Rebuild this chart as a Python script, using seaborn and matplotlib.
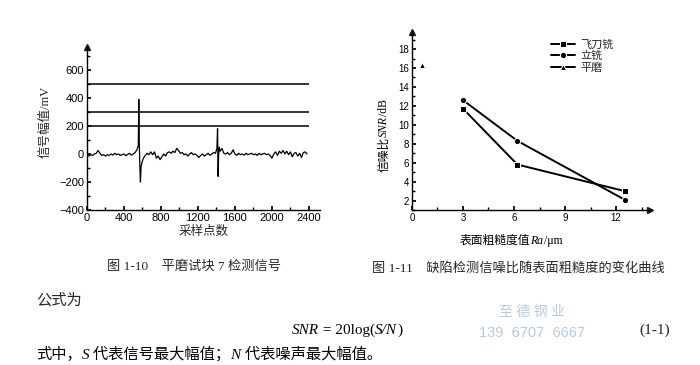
import pandas as pd
import seaborn as sns
import matplotlib.pyplot as plt
from matplotlib.ticker import MultipleLocator

# ---- data ----
# Fig 1-10: detection signal of the surface-ground block 7
sample_idx = [0, 20, 40, 60, 80, 100, 120, 140, 160, 180, 200, 220, 240, 260, 280, 300,
              320, 340, 360, 380, 400, 420, 440, 460, 480, 500, 520, 540, 555, 560, 565,
              570, 578, 585, 595, 610, 630, 650, 670, 690, 710, 730, 750, 770, 790, 810,
              830, 850, 870, 890, 910, 930, 950, 970, 990, 1010, 1030, 1050, 1070, 1090,
              1110, 1130, 1150, 1170, 1190, 1210, 1230, 1250, 1270, 1290, 1310, 1330, 1350,
              1370, 1390, 1405, 1412, 1418, 1424, 1430, 1440, 1460, 1480, 1500, 1520, 1540,
              1560, 1580, 1600, 1620, 1640, 1660, 1680, 1700, 1720, 1740, 1760, 1780, 1800,
              1820, 1840, 1860, 1880, 1900, 1920, 1940, 1960, 1980, 2000, 2020, 2040, 2060,
              2080, 2100, 2120, 2140, 2160, 2180, 2200, 2220, 2240, 2260, 2280, 2300, 2320,
              2340, 2360, 2380]
signal_mv = [-10, -15, -5, -10, 0, 5, 25, 5, -10, -5, -15, -5, -10, 0, -8, 5,
             -5, 0, -10, -5, 0, -12, -3, 5, -8, 0, 10, 30, 60, 390, 100,
             -50, -200, -90, -60, -30, -10, 5, -5, 15, -5, 15, -30, -15, -40, -20,
             0, -15, 10, 15, 5, 20, 10, 40, 25, 5, 10, -5, 0, -15,
             0, 10, -5, 0, -10, -25, -10, 0, -15, -5, 5, -10, 0,
             10, 5, 40, 180, -160, 0, 50, 20, 40, 5, 0, 10, -5,
             5, 30, 0, -10, 5, -5, 0, -8, 5, -5, 0, 5, -5,
             0, -10, 5, -5, 0, 5, -5, 0, -10, -30, 0, 15, -10,
             20, 5, 25, 0, 20, -5, 15, -20, 5, 10, -15, 5, -25,
             10, 15, 0]
threshold_mv = [500, 300, 200]
threshold_end = 2400

# Fig 1-11: SNR vs surface roughness
methods = ["飞刀铣", "立铣", "平磨"]
ra_flycut = [3.0, 6.2, 12.5]
snr_flycut = [11.7, 5.8, 3.0]
ra_endmill = [3.0, 6.2, 12.5]
snr_endmill = [12.6, 8.3, 2.1]
ra_grind = [0.6]
snr_grind = [16.3]

sns.set_theme(style="ticks")
plt.rcParams['font.family'] = ['Liberation Sans', 'Noto Sans CJK SC']
cjk = ['Liberation Serif', 'Noto Sans CJK SC']

fig = plt.figure(figsize=(7, 3.65), dpi=100)
fig.patch.set_facecolor("white")
renderer = fig.canvas.get_renderer()


def rich_text(x, y, parts, size, rotation=0, color="black"):
    # parts: list of (string, italic?) drawn one after another; x, y in pixels
    for s, it in parts:
        t = fig.text(x / 700, y / 365, s, fontsize=size, family=cjk, color=color,
                     style="italic" if it else "normal", rotation=rotation,
                     rotation_mode="anchor", ha="left", va="baseline")
        bb = t.get_window_extent(renderer)
        if rotation == 90:
            y = bb.y1
        else:
            x = bb.x1


# ---------------- left chart ----------------
ax1 = fig.add_axes([87/700, 155/365, 233/700, 163/365])
sns.lineplot(x=sample_idx, y=signal_mv, color="black", lw=0.9, sort=False,
             estimator=None, ax=ax1)
ax1.hlines(threshold_mv, 0, threshold_end, color="black", lw=1.1)
ax1.set_xlim(0, 2520)
ax1.set_ylim(-400, 764)
ax1.xaxis.set_major_locator(MultipleLocator(400))
ax1.xaxis.set_minor_locator(MultipleLocator(200))
ax1.yaxis.set_major_locator(MultipleLocator(200))
ax1.yaxis.set_minor_locator(MultipleLocator(100))
ax1.tick_params(which="both", direction="in", labelsize=8, colors="black", pad=2)
ax1.tick_params(which="major", length=3)
ax1.tick_params(which="minor", length=2)
ax1.set_ylabel("信号幅值/mV", fontsize=9, family=cjk)
ax1.yaxis.set_label_coords(-0.15, 0.54)
ax1.set_xlabel("采样点数", fontsize=9, family=cjk)
ax1.xaxis.set_label_coords(0.5, -0.1)
for s in ["top", "right"]:
    ax1.spines[s].set_visible(False)
for s in ["left", "bottom"]:
    ax1.spines[s].set_color("black")
    ax1.spines[s].set_linewidth(1)
ax1.plot(0, 1, "^k", ms=4, transform=ax1.transAxes, clip_on=False)
ax1.set_facecolor("white")

# ---------------- right chart ----------------
df = pd.DataFrame({
    "Ra": ra_flycut + ra_endmill + ra_grind,
    "SNR": snr_flycut + snr_endmill + snr_grind,
    "method": [methods[0]] * len(ra_flycut) + [methods[1]] * len(ra_endmill)
              + [methods[2]] * len(ra_grind),
})
ax2 = fig.add_axes([412/700, 155/365, 238/700, 178/365])
sns.lineplot(data=df, x="Ra", y="SNR", hue="method", style="method",
             markers={"飞刀铣": "s", "立铣": "o", "平磨": "^"}, dashes=False,
             palette=["black"] * 3, lw=1.4, markersize=4.5, sort=False,
             estimator=None, ax=ax2)
ax2.set_xlim(0, 14)
ax2.set_ylim(1, 19.8)
ax2.xaxis.set_major_locator(MultipleLocator(3))
ax2.xaxis.set_minor_locator(MultipleLocator(1.5))
ax2.yaxis.set_minor_locator(MultipleLocator(1))
ax2.set_yticks(range(2, 19, 2))
ax2.tick_params(which="both", direction="in", labelsize=7, colors="black", pad=2)
ax2.tick_params(which="major", length=3)
ax2.tick_params(which="minor", length=2)
ax2.set_xlabel("")
ax2.set_ylabel("")
for s in ["top", "right"]:
    ax2.spines[s].set_visible(False)
for s in ["left", "bottom"]:
    ax2.spines[s].set_color("black")
    ax2.spines[s].set_linewidth(1)
ax2.plot(0, 1, "^k", ms=4, transform=ax2.transAxes, clip_on=False)
ax2.plot(1, 0, ">k", ms=4, transform=ax2.transAxes, clip_on=False)
ax2.set_facecolor("white")
ax2.legend(loc="upper left", bbox_to_anchor=(0.55, 1.0), frameon=False,
           handlelength=2.2, labelspacing=0.1, borderpad=0.2,
           handletextpad=0.5, prop={"family": cjk, "size": 8})

# axis labels of the right chart, with italic symbols
rich_text(387, 365 - 172, [("信噪比", False), ("SNR", True), ("/dB", False)], 8.5,
          rotation=90)
rich_text(460, 365 - 244, [("表面粗糙度值", False), ("Ra", True), ("/μm", False)], 8.5)

# ---------------- captions and body text ----------------
fig.text(194/700, 1 - 267/365, "图 1-10    平磨试块 7 检测信号", ha="center", va="center",
         fontsize=9.5, family=cjk)
fig.text(518/700, 1 - 268/365, "图 1-11    缺陷检测信噪比随表面粗糙度的变化曲线", ha="center",
         va="center", fontsize=9.5, family=cjk)
fig.text(36/700, 1 - 300/365, "公式为", ha="left", va="center", fontsize=11, family=cjk)
rich_text(292, 365 - 334, [("SNR", True), (" = 20log(", False), ("S/N", True), (")", False)], 11)
fig.text(670/700, 1 - 330/365, "(1-1)", ha="right", va="center", fontsize=11, family=cjk)
rich_text(36, 365 - 359, [("式中，", False), ("S", True), (" 代表信号最大幅值；", False),
                          ("N", True), (" 代表噪声最大幅值。", False)], 11)
fig.text(532/700, 1 - 312/365, "至 德 钢 业", ha="center", va="center", fontsize=10,
         color="#b9c8e0", family=cjk)
fig.text(532/700, 1 - 333/365, "139  6707  6667", ha="center", va="center", fontsize=10.5,
         color="#b9c8e0", family=['Liberation Sans'])

fig.savefig("out.png", dpi=100, facecolor="white")
